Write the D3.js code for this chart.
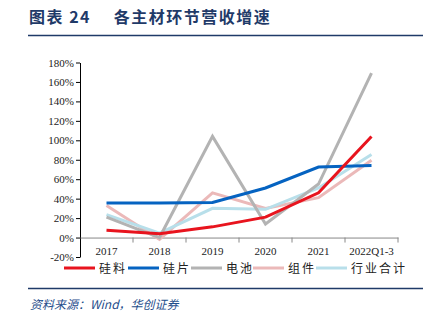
<!DOCTYPE html>
<html lang="zh">
<head>
<meta charset="utf-8">
<title>各主材环节营收增速</title>
<script src="https://cdn.jsdelivr.net/npm/d3@7"></script>
<style>
  body { margin: 0; background: #fff; }
  svg { display: block; }
  .axis text { font-family: "Liberation Serif", "Times New Roman", serif; font-size: 11px; fill: #222; }
</style>
</head>
<body>
<svg id="chart"></svg>
<script>
// data
var years = ["2017", "2018", "2019", "2020", "2021", "2022Q1-3"];
var guiliao = [7.5, 4, 11, 21, 46, 104];      // 硅料
var guipian = [35.5, 35.5, 36, 51, 72.5, 74];  // 硅片
var dianchi = [21, 0, 104, 14, 55, 169];       // 电池
var zujian = [33, -2, 46, 30, 41, 79.5];       // 组件
var hangye = [23.5, 4.5, 30, 29, 51, 85.5];    // 行业合计
var seriesNames = ["硅料", "硅片", "电池", "组件", "行业合计"];
var seriesColors = ["#e8141e", "#0563c1", "#b3b3b3", "#ebb9b9", "#b8dfea"];
var yTicks = [-20, 0, 20, 40, 60, 80, 100, 120, 140, 160, 180];

var W = 436, H = 321;
var svg = d3.select("#chart").attr("width", W).attr("height", H);

// title + rules
svg.append("text")
  .attr("x", 29).attr("y", 23)
  .style("font-family", "'Noto Sans CJK SC', sans-serif")
  .style("font-weight", "bold")
  .style("font-size", "16px")
  .style("letter-spacing", "1.5px")
  .style("fill", "#1f3a68")
  .text("图表 24\u3000 各主材环节营收增速");
svg.append("line").attr("x1", 28).attr("x2", 423).attr("y1", 35.5).attr("y2", 35.5)
  .style("stroke", "#1f3a68").style("stroke-width", 1.5);
svg.append("line").attr("x1", 28).attr("x2", 423).attr("y1", 288.5).attr("y2", 288.5)
  .style("stroke", "#1f3a68").style("stroke-width", 1.5);
svg.append("text")
  .attr("x", 30).attr("y", 309)
  .style("font-family", "'Noto Sans CJK SC', serif")
  .style("font-style", "italic")
  .style("font-size", "12px")
  .style("fill", "#1f4e8c")
  .text("资料来源：Wind，华创证券");

// plot area
var plotLeft = 80, plotRight = 398, plotTop = 62.5, plotBottom = 257;
var x = d3.scaleBand().domain(years).range([plotLeft, plotRight]);
var y = d3.scaleLinear().domain([-20, 180]).range([plotBottom, plotTop]);

var yAxis = svg.append("g").attr("class", "axis")
  .attr("transform", "translate(" + plotLeft + ",0)")
  .call(d3.axisLeft(y).tickValues(yTicks).tickSize(4).tickSizeOuter(0)
    .tickFormat(function(d) { return d + "%"; }));
yAxis.select(".domain").style("stroke", "#000");
yAxis.selectAll(".tick line").style("stroke", "#000");
yAxis.selectAll("text").attr("x", -6);

var xAxis = svg.append("g").attr("class", "axis")
  .attr("transform", "translate(0," + y(0) + ")")
  .call(d3.axisBottom(x).tickSize(0));
xAxis.select(".domain").style("stroke", "#888");
xAxis.selectAll("text").attr("dy", "0").attr("y", 17);

// tick marks between categories
svg.append("g").selectAll("line")
  .data(years)
  .enter().append("line")
  .attr("x1", function(d) { return x(d) + x.step(); })
  .attr("x2", function(d) { return x(d) + x.step(); })
  .attr("y1", y(0)).attr("y2", y(0) + 5)
  .style("stroke", "#888");

// lines
var allSeries = [guiliao, guipian, dianchi, zujian, hangye];
var line = d3.line()
  .x(function(d, i) { return x(years[i]) + x.bandwidth() / 2; })
  .y(function(d) { return y(d); });

// draw order: pink, light blue, gray, blue, red on top
var order = [3, 4, 2, 1, 0];
order.forEach(function(k) {
  svg.append("path")
    .datum(allSeries[k])
    .attr("d", line)
    .style("fill", "none")
    .style("stroke", seriesColors[k])
    .style("stroke-width", 3);
});

// legend
var legendX = [64, 128, 191, 253, 316];
var leg = svg.append("g").selectAll("g")
  .data(seriesNames)
  .enter().append("g")
  .attr("transform", function(d, i) { return "translate(" + legendX[i] + ",268)"; });
leg.append("line")
  .attr("x1", 0).attr("x2", 31)
  .style("stroke", function(d, i) { return seriesColors[i]; })
  .style("stroke-width", 3);
leg.append("text")
  .attr("x", 35).attr("y", 4.5)
  .style("font-family", "'Noto Sans CJK SC', sans-serif")
  .style("font-size", "12px")
  .style("letter-spacing", "2px")
  .style("fill", "#222")
  .text(function(d) { return d; });
</script>
</body>
</html>
